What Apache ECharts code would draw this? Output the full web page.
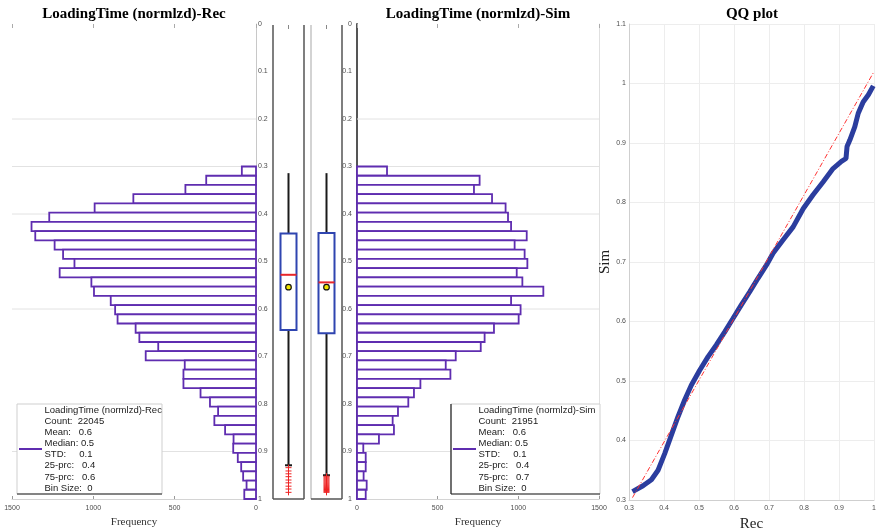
<!DOCTYPE html>
<html>
<head>
<meta charset="utf-8">
<title>LoadingTime (normlzd)</title>
<script src="https://cdn.jsdelivr.net/npm/echarts@6/dist/echarts.min.js"></script>
<style>
  html, body { margin: 0; padding: 0; background: #fff; }
  #chart { width: 878px; height: 531px; }
</style>
</head>
<body>
<div id="chart"></div>
<script>
// histograms: equal bins between binLo and binHi
const binLo = 0.3
const binHi = 1.0
const recCounts = [87, 306, 434, 754, 992, 1271, 1380, 1357, 1238, 1186, 1116, 1207, 1012, 996, 893, 866, 851, 740,
  717, 601, 678, 438, 446, 446, 341, 283, 233, 256, 190, 138, 140, 112, 91, 79, 58, 72]
const simCounts = [186, 760, 725, 837, 921, 936, 955, 1052, 977, 1039, 1056, 990, 1025, 1155, 955, 1014, 1002, 849,
  791, 767, 612, 550, 579, 393, 353, 318, 254, 221, 229, 136, 39, 54, 54, 41, 60, 54]
const gridY = [0.2, 0.3, 0.4, 0.6, 0.9] // visible horizontal grid lines

// box plots: [whisker low, q1, median, q3, whisker high, mean]
const recBox = [0.314, 0.441, 0.528, 0.644, 0.929, 0.554]
const simBox = [0.314, 0.440, 0.544, 0.651, 0.950, 0.554]
const recOutliers = [0.934, 0.941, 0.947, 0.953, 0.960, 0.966, 0.973, 0.979, 0.986]
const simOutliers = [0.952, 0.954, 0.956, 0.958, 0.960, 0.962, 0.964, 0.966, 0.968, 0.970, 0.972,
  0.974, 0.976, 0.978, 0.980, 0.982, 0.984, 0.986]

// QQ plot (sample quantiles)
const qqRec = [0.31, 0.34, 0.364, 0.383, 0.402, 0.421, 0.44, 0.459, 0.478, 0.502, 0.526, 0.55, 0.574, 0.597,
  0.621, 0.645, 0.669, 0.693, 0.712, 0.74, 0.769, 0.798, 0.826, 0.855, 0.883, 0.907, 0.92, 0.923, 0.931,
  0.945, 0.955, 0.969, 0.984, 0.998]
const qqSim = [0.314, 0.324, 0.334, 0.35, 0.378, 0.409, 0.44, 0.468, 0.493, 0.518, 0.541, 0.561, 0.583, 0.605,
  0.628, 0.65, 0.673, 0.695, 0.715, 0.737, 0.759, 0.79, 0.813, 0.835, 0.857, 0.869, 0.874, 0.894, 0.905,
  0.927, 0.95, 0.969, 0.981, 0.996]
const refRec = [0.31, 1.0]
const refSim = [0.304, 1.02]

// legend text
const recLegend = ['LoadingTime (normlzd)-Rec', 'Count:  22045', 'Mean:   0.6', 'Median: 0.5', 'STD:     0.1',
  '25-prc:   0.4', '75-prc:   0.6', 'Bin Size:  0']
const simLegend = ['LoadingTime (normlzd)-Sim', 'Count:  21951', 'Mean:   0.6', 'Median: 0.5', 'STD:     0.1',
  '25-prc:   0.4', '75-prc:   0.7', 'Bin Size:  0']

const PURPLE = '#5f2db0'
const SANS = 'Liberation Sans, Arial, sans-serif'
const SERIF = 'Liberation Serif, Times New Roman, serif'
const tickFont = { fontSize: 7, color: '#4d4d4d', fontFamily: SANS, formatter: v => String(v) }

const binW = (binHi - binLo) / recCounts.length
const histData = counts => counts.map((c, i) => [binLo + i * binW, binLo + (i + 1) * binW, c])

function renderBar(params, api) {
  const a = api.coord([0, api.value(0)])
  const b = api.coord([api.value(2), api.value(1)])
  return {
    type: 'rect',
    shape: { x: Math.min(a[0], b[0]), y: a[1], width: Math.abs(b[0] - a[0]), height: b[1] - a[1] },
    style: { fill: '#fff', stroke: PURPLE, lineWidth: 1.8 }
  }
}

function renderGridLine(maxX) {
  return function (params, api) {
    const a = api.coord([0, api.value(0)])
    const b = api.coord([maxX, api.value(0)])
    return {
      type: 'line',
      shape: { x1: a[0], y1: a[1], x2: b[0], y2: b[1] },
      style: { stroke: '#e2e2e2', lineWidth: 1 }
    }
  }
}

// left / right / bottom frame of a box-plot panel
function renderFrame(leftColor) {
  return function (params) {
    const r = params.coordSys
    const dark = { stroke: '#555', lineWidth: 1.5 }
    const top = r.y + 1
    const bottom = r.y + r.height
    const mid = r.x + r.width / 2
    return {
      type: 'group',
      children: [
        { type: 'line', shape: { x1: r.x, y1: top, x2: r.x, y2: bottom }, style: { stroke: leftColor, lineWidth: 1.5 } },
        { type: 'line', shape: { x1: r.x + r.width, y1: top, x2: r.x + r.width, y2: bottom }, style: dark },
        { type: 'line', shape: { x1: r.x, y1: bottom, x2: r.x + r.width, y2: bottom }, style: dark },
        { type: 'line', shape: { x1: mid, y1: top, x2: mid, y2: top + 4 }, style: { stroke: '#888', lineWidth: 1 } }
      ]
    }
  }
}

function renderBox(params, api) {
  const p = i => api.coord([api.value(0), api.value(i)])
  const lo = p(1), q1 = p(2), md = p(3), q3 = p(4), hi = p(5), mn = p(6)
  const cx = lo[0]
  const half = 8
  const black = { stroke: '#1a1a1a', lineWidth: 2 }
  return {
    type: 'group',
    children: [
      { type: 'line', shape: { x1: cx, y1: lo[1], x2: cx, y2: q1[1] }, style: black },
      { type: 'line', shape: { x1: cx, y1: q3[1], x2: cx, y2: hi[1] }, style: black },
      { type: 'line', shape: { x1: cx - 3.5, y1: hi[1], x2: cx + 3.5, y2: hi[1] }, style: black },
      { type: 'rect', shape: { x: cx - half, y: q1[1], width: half * 2, height: q3[1] - q1[1] },
        style: { fill: 'none', stroke: '#2f45b0', lineWidth: 2 } },
      { type: 'line', shape: { x1: cx - half, y1: md[1], x2: cx + half, y2: md[1] },
        style: { stroke: '#e8262a', lineWidth: 2 } },
      { type: 'circle', shape: { cx: mn[0], cy: mn[1], r: 2.8 },
        style: { fill: '#f0e400', stroke: '#111', lineWidth: 1.2 } }
    ]
  }
}

function renderPlus(params, api) {
  const c = api.coord([api.value(0), api.value(1)])
  const s = 3
  return {
    type: 'group',
    children: [
      { type: 'line', shape: { x1: c[0] - s, y1: c[1], x2: c[0] + s, y2: c[1] }, style: { stroke: '#ee2222', lineWidth: 1 } },
      { type: 'line', shape: { x1: c[0], y1: c[1] - s, x2: c[0], y2: c[1] + s }, style: { stroke: '#ee2222', lineWidth: 1 } }
    ]
  }
}

function legendGroup(x0, lines, darkLeft) {
  const x1 = x0 + (darkLeft ? 149 : 145)
  const top = 404, bottom = 494
  const children = [
    { type: 'rect', z: 100, shape: { x: x0, y: top, width: x1 - x0, height: bottom - top },
      style: { fill: '#fff', stroke: '#cfcfcf', lineWidth: 1 } },
    { type: 'line', z: 101, shape: { x1: x0, y1: bottom, x2: x1, y2: bottom }, style: { stroke: '#222', lineWidth: 1.2 } },
    { type: 'line', z: 101, shape: { x1: x0 + 2, y1: 449, x2: x0 + 25, y2: 449 }, style: { stroke: PURPLE, lineWidth: 2 } }
  ]
  if (darkLeft) {
    children.push({ type: 'line', z: 101, shape: { x1: x0, y1: top, x2: x0, y2: bottom }, style: { stroke: '#222', lineWidth: 1.2 } })
  }
  lines.forEach((t, i) => {
    children.push({
      type: 'text',
      z: 101,
      x: x0 + 27.5,
      y: 410 + i * 11.15,
      style: { text: t, fill: '#1a1a1a', font: '9.5px ' + SANS, textAlign: 'left', textVerticalAlign: 'middle' }
    })
  })
  return { type: 'group', children }
}

function titleText(x, t) {
  return {
    type: 'text', x: x, y: 14, z: 100,
    style: { text: t, fill: '#000', font: 'bold 15px ' + SERIF, textAlign: 'center', textVerticalAlign: 'middle' }
  }
}

const hiddenY = gi => ({
  gridIndex: gi, type: 'value', min: 0, max: 1, interval: 0.1, inverse: true, show: false
})
const hiddenCat = (gi, name) => ({
  gridIndex: gi, type: 'category', data: [name], show: false
})
const panel = (left, width, top, height) => ({ left, width, top, height, outerBoundsMode: 'none', containLabel: false })

const chart = echarts.init(document.getElementById('chart'), null, { renderer: 'canvas' })

chart.setOption({
  animation: false,
  backgroundColor: '#fff',
  grid: [
    panel(12, 244, 24, 475),   // Rec histogram
    panel(273, 31, 24, 475),   // Rec box
    panel(311, 31, 24, 475),   // Sim box
    panel(357, 242, 24, 475),  // Sim histogram
    panel(629, 245, 24, 476)   // QQ plot
  ],
  xAxis: [
    { gridIndex: 0, type: 'value', min: 0, max: 1500, interval: 500, inverse: true, position: 'bottom',
      name: 'Frequency', nameLocation: 'middle', nameGap: 16,
      nameTextStyle: { fontFamily: SERIF, fontSize: 11, color: '#333' },
      axisLine: { show: true, onZero: false, lineStyle: { color: '#d4d4d4' } },
      axisTick: { show: true, inside: true, length: 3, lineStyle: { color: '#999' } },
      axisLabel: Object.assign({ margin: 6 }, tickFont), splitLine: { show: false } },
    { gridIndex: 0, type: 'value', min: 0, max: 1500, interval: 500, inverse: true, position: 'top',
      axisLine: { show: false, onZero: false }, axisTick: { show: true, inside: true, length: 4, lineStyle: { color: '#aaa' } },
      axisLabel: { show: false }, splitLine: { show: false } },
    hiddenCat(1, 'Rec'),
    hiddenCat(2, 'Sim'),
    { gridIndex: 3, type: 'value', min: 0, max: 1500, interval: 500, position: 'bottom',
      name: 'Frequency', nameLocation: 'middle', nameGap: 16,
      nameTextStyle: { fontFamily: SERIF, fontSize: 11, color: '#333' },
      axisLine: { show: true, onZero: false, lineStyle: { color: '#d4d4d4' } },
      axisTick: { show: true, inside: true, length: 3, lineStyle: { color: '#999' } },
      axisLabel: Object.assign({ margin: 6 }, tickFont), splitLine: { show: false } },
    { gridIndex: 3, type: 'value', min: 0, max: 1500, interval: 500, position: 'top',
      axisLine: { show: false, onZero: false }, axisTick: { show: true, inside: true, length: 4, lineStyle: { color: '#aaa' } },
      axisLabel: { show: false }, splitLine: { show: false } },
    { gridIndex: 4, type: 'value', min: 0.3, max: 1, interval: 0.1,
      name: 'Rec', nameLocation: 'middle', nameGap: 16,
      nameTextStyle: { fontFamily: SERIF, fontSize: 15, color: '#222' },
      axisLine: { show: true, onZero: false, lineStyle: { color: '#cfcfcf' } },
      axisTick: { show: false },
      axisLabel: Object.assign({ margin: 5 }, tickFont),
      splitLine: { show: true, lineStyle: { color: '#ededed' } } }
  ],
  yAxis: [
    { gridIndex: 0, type: 'value', min: 0, max: 1, interval: 0.1, inverse: true, position: 'right',
      axisLine: { show: true, onZero: false, lineStyle: { color: '#c8c8c8' } }, axisTick: { show: false },
      axisLabel: Object.assign({ margin: 2 }, tickFont), splitLine: { show: false } },
    hiddenY(1),
    hiddenY(2),
    { gridIndex: 3, type: 'value', min: 0, max: 1, interval: 0.1, inverse: true, position: 'left',
      axisLine: { show: true, onZero: false, lineStyle: { color: '#555', width: 2 } }, axisTick: { show: false },
      axisLabel: Object.assign({ margin: 5 }, tickFont), splitLine: { show: false } },
    { gridIndex: 3, type: 'value', min: 0, max: 1, interval: 0.1, inverse: true, position: 'right',
      axisLine: { show: true, onZero: false, lineStyle: { color: '#e0e0e0' } }, axisTick: { show: false },
      axisLabel: { show: false }, splitLine: { show: false } },
    { gridIndex: 4, type: 'value', min: 0.3, max: 1.1, interval: 0.1,
      name: 'Sim', nameLocation: 'middle', nameGap: 16,
      nameTextStyle: { fontFamily: SERIF, fontSize: 15, color: '#222' },
      axisLine: { show: true, onZero: false, lineStyle: { color: '#cfcfcf' } }, axisTick: { show: false },
      axisLabel: Object.assign({ margin: 3 }, tickFont),
      splitLine: { show: true, lineStyle: { color: '#ededed' } } }
  ],
  series: [
    { type: 'custom', xAxisIndex: 0, yAxisIndex: 0, z: 1, silent: true,
      renderItem: renderGridLine(1500), data: gridY.map(v => [v]) },
    { type: 'custom', name: 'Rec', xAxisIndex: 0, yAxisIndex: 0, z: 2,
      renderItem: renderBar, encode: { x: 2, y: [0, 1] }, data: histData(recCounts) },
    { type: 'custom', xAxisIndex: 2, yAxisIndex: 1, z: 1, silent: true,
      renderItem: renderFrame('#555'), data: [[0, 0]] },
    { type: 'custom', xAxisIndex: 2, yAxisIndex: 1, z: 3,
      renderItem: renderBox, data: [[0].concat(recBox)] },
    { type: 'custom', xAxisIndex: 2, yAxisIndex: 1, z: 3,
      renderItem: renderPlus, data: recOutliers.map(v => [0, v]) },
    { type: 'custom', xAxisIndex: 3, yAxisIndex: 2, z: 1, silent: true,
      renderItem: renderFrame('#c4c4c4'), data: [[0, 0]] },
    { type: 'custom', xAxisIndex: 3, yAxisIndex: 2, z: 3,
      renderItem: renderBox, data: [[0].concat(simBox)] },
    { type: 'custom', xAxisIndex: 3, yAxisIndex: 2, z: 3,
      renderItem: renderPlus, data: simOutliers.map(v => [0, v]) },
    { type: 'custom', xAxisIndex: 4, yAxisIndex: 3, z: 1, silent: true,
      renderItem: renderGridLine(1500), data: gridY.map(v => [v]) },
    { type: 'custom', name: 'Sim', xAxisIndex: 4, yAxisIndex: 3, z: 2,
      renderItem: renderBar, encode: { x: 2, y: [0, 1] }, data: histData(simCounts) },
    { type: 'line', xAxisIndex: 6, yAxisIndex: 5, z: 3, symbol: 'none',
      lineStyle: { color: '#2b3d9e', width: 5 },
      data: qqRec.map((v, i) => [v, qqSim[i]]) },
    { type: 'line', xAxisIndex: 6, yAxisIndex: 5, z: 4, symbol: 'none',
      lineStyle: { color: '#ff3333', width: 1, type: [5, 2, 1, 2] },
      data: refRec.map((v, i) => [v, refSim[i]]) }
  ],
  graphic: [
    titleText(134, 'LoadingTime (normlzd)-Rec'),
    titleText(478, 'LoadingTime (normlzd)-Sim'),
    titleText(752, 'QQ plot'),
    legendGroup(17, recLegend, false),
    legendGroup(451, simLegend, true)
  ]
})
</script>
</body>
</html>
